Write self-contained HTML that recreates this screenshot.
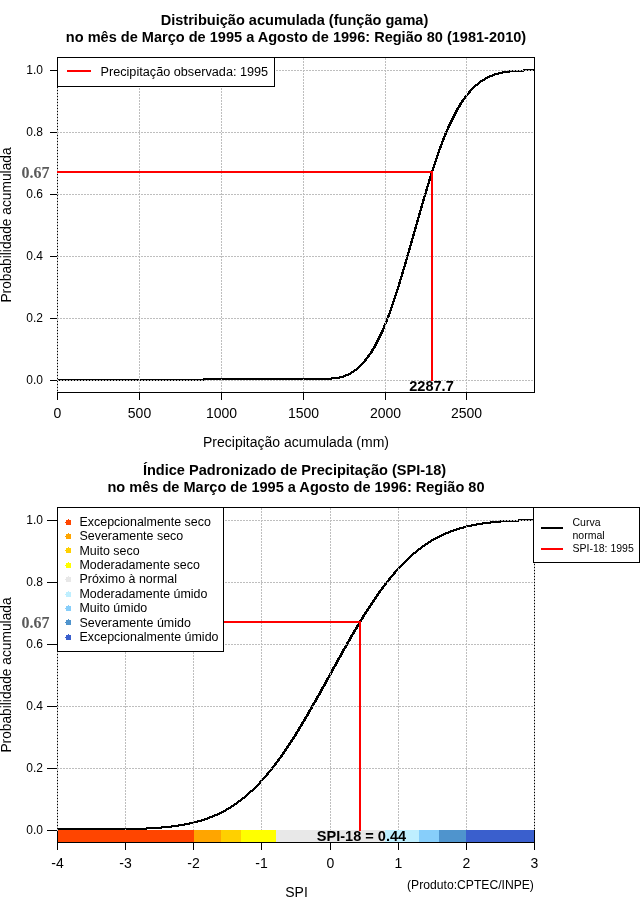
<!DOCTYPE html>
<html><head><meta charset="utf-8"><title>SPI</title>
<style>html,body{margin:0;padding:0;background:#fff}svg{display:block;will-change:transform}text{font-family:"Liberation Sans",sans-serif;fill:#000}</style></head>
<body>
<svg width="640" height="900" viewBox="0 0 640 900">
<rect width="640" height="900" fill="#fff"/>
<g shape-rendering="crispEdges">
<rect x="57.5" y="57.5" width="477" height="335" fill="none" stroke="#000" stroke-width="1"/>
</g>
<path d="M57.0,380.0 L203.0,380.0 L204.0,379.0 L320.0,379.0 L321.0,379.0 L322.0,379.0 L323.0,379.0 L324.0,379.0 L325.0,379.0 L326.0,379.0 L327.0,379.0 L328.0,379.0 L329.0,379.0 L330.0,379.0 L331.0,379.0 L332.0,378.0 L333.0,378.0 L334.0,378.0 L335.0,378.0 L336.0,378.0 L337.0,378.0 L338.0,378.0 L339.0,378.0 L340.0,377.0 L341.0,377.0 L342.0,377.0 L343.0,377.0 L344.0,376.0 L345.0,376.0 L346.0,375.0 L347.0,375.0 L348.0,375.0 L349.0,374.0 L350.0,374.0 L351.0,373.0 L352.0,372.0 L353.0,372.0 L354.0,371.0 L355.0,370.0 L356.0,370.0 L357.0,369.0 L358.0,368.0 L359.0,367.0 L360.0,366.0 L361.0,365.0 L362.0,364.0 L363.0,363.0 L364.0,362.0 L365.0,361.0 L366.0,359.0 L367.0,358.0 L368.0,357.0 L369.0,355.0 L370.0,354.0 L371.0,353.0 L372.0,351.0 L373.0,349.0 L374.0,348.0 L375.0,346.0 L376.0,344.0 L377.0,342.0 L378.0,340.0 L379.0,338.0 L380.0,336.0 L381.0,334.0 L382.0,332.0 L383.0,330.0 L384.0,327.0 L385.0,325.0 L386.0,322.0 L387.0,320.0 L388.0,317.0 L389.0,315.0 L390.0,312.0 L391.0,309.0 L392.0,306.0 L393.0,303.0 L394.0,300.0 L395.0,297.0 L396.0,294.0 L397.0,291.0 L398.0,288.0 L399.0,285.0 L400.0,281.0 L401.0,278.0 L402.0,275.0 L403.0,271.0 L404.0,268.0 L405.0,265.0 L406.0,261.0 L407.0,258.0 L408.0,254.0 L409.0,251.0 L410.0,247.0 L411.0,244.0 L412.0,240.0 L413.0,237.0 L414.0,233.0 L415.0,230.0 L416.0,226.0 L417.0,223.0 L418.0,219.0 L419.0,216.0 L420.0,212.0 L421.0,209.0 L422.0,205.0 L423.0,202.0 L424.0,198.0 L425.0,195.0 L426.0,192.0 L427.0,188.0 L428.0,185.0 L429.0,182.0 L430.0,178.0 L431.0,175.0 L432.0,172.0 L433.0,169.0 L434.0,166.0 L435.0,163.0 L436.0,160.0 L437.0,157.0 L438.0,154.0 L439.0,151.0 L440.0,148.0 L441.0,146.0 L442.0,143.0 L443.0,140.0 L444.0,138.0 L445.0,135.0 L446.0,133.0 L447.0,131.0 L448.0,128.0 L449.0,126.0 L450.0,124.0 L451.0,122.0 L452.0,120.0 L453.0,118.0 L454.0,116.0 L455.0,114.0 L456.0,112.0 L457.0,110.0 L458.0,108.0 L459.0,107.0 L460.0,105.0 L461.0,103.0 L462.0,102.0 L463.0,100.0 L464.0,99.0 L465.0,98.0 L466.0,96.0 L467.0,95.0 L468.0,94.0 L469.0,93.0 L470.0,91.0 L471.0,90.0 L472.0,89.0 L473.0,88.0 L474.0,87.0 L475.0,86.0 L476.0,85.0 L477.0,85.0 L478.0,84.0 L479.0,83.0 L480.0,82.0 L481.0,81.0 L482.0,81.0 L483.0,80.0 L484.0,80.0 L485.0,79.0 L486.0,78.0 L487.0,78.0 L488.0,77.0 L489.0,77.0 L490.0,76.0 L491.0,76.0 L492.0,76.0 L493.0,75.0 L494.0,75.0 L495.0,74.0 L496.0,74.0 L497.0,74.0 L498.0,74.0 L499.0,73.0 L500.0,73.0 L501.0,73.0 L502.0,73.0 L503.0,72.0 L504.0,72.0 L505.0,72.0 L506.0,72.0 L507.0,72.0 L508.0,72.0 L509.0,72.0 L510.0,71.0 L511.0,71.0 L512.0,71.0 L513.0,71.0 L514.0,71.0 L515.0,71.0 L516.0,71.0 L517.0,71.0 L518.0,71.0 L519.0,71.0 L520.0,71.0 L521.0,71.0 L522.0,71.0 L523.0,71.0 L524.0,70.0 L525.0,70.0 L526.0,70.0 L527.0,70.0 L528.0,70.0 L529.0,70.0 L530.0,70.0 L531.0,70.0 L532.0,70.0 L533.0,70.0 L534.0,70.0" fill="none" stroke="#000" stroke-width="2.4" stroke-linejoin="round" shape-rendering="crispEdges"/>
<g shape-rendering="crispEdges">
<line x1="57.5" y1="58" x2="57.5" y2="392" stroke="#bebebe" stroke-width="1" stroke-dasharray="2 1"/>
<line x1="139.5" y1="58" x2="139.5" y2="392" stroke="#bebebe" stroke-width="1" stroke-dasharray="2 1"/>
<line x1="221.5" y1="58" x2="221.5" y2="392" stroke="#bebebe" stroke-width="1" stroke-dasharray="2 1"/>
<line x1="303.5" y1="58" x2="303.5" y2="392" stroke="#bebebe" stroke-width="1" stroke-dasharray="2 1"/>
<line x1="385.5" y1="58" x2="385.5" y2="392" stroke="#bebebe" stroke-width="1" stroke-dasharray="2 1"/>
<line x1="466.5" y1="58" x2="466.5" y2="392" stroke="#bebebe" stroke-width="1" stroke-dasharray="2 1"/>
<line x1="57" y1="380.5" x2="534" y2="380.5" stroke="#bebebe" stroke-width="1" stroke-dasharray="2 1"/>
<line x1="57" y1="318.5" x2="534" y2="318.5" stroke="#bebebe" stroke-width="1" stroke-dasharray="2 1"/>
<line x1="57" y1="256.5" x2="534" y2="256.5" stroke="#bebebe" stroke-width="1" stroke-dasharray="2 1"/>
<line x1="57" y1="194.5" x2="534" y2="194.5" stroke="#bebebe" stroke-width="1" stroke-dasharray="2 1"/>
<line x1="57" y1="132.5" x2="534" y2="132.5" stroke="#bebebe" stroke-width="1" stroke-dasharray="2 1"/>
<line x1="57" y1="70.5" x2="534" y2="70.5" stroke="#bebebe" stroke-width="1" stroke-dasharray="2 1"/>
</g>
<g shape-rendering="crispEdges">
<rect x="50" y="380" width="7" height="1" fill="#000" />
<rect x="50" y="318" width="7" height="1" fill="#000" />
<rect x="50" y="256" width="7" height="1" fill="#000" />
<rect x="50" y="194" width="7" height="1" fill="#000" />
<rect x="50" y="132" width="7" height="1" fill="#000" />
<rect x="50" y="70" width="7" height="1" fill="#000" />
<rect x="57" y="392" width="1" height="8" fill="#000" />
<rect x="139" y="392" width="1" height="8" fill="#000" />
<rect x="221" y="392" width="1" height="8" fill="#000" />
<rect x="303" y="392" width="1" height="8" fill="#000" />
<rect x="385" y="392" width="1" height="8" fill="#000" />
<rect x="466" y="392" width="1" height="8" fill="#000" />
</g>
<text x="43" y="384.3" font-size="12" text-anchor="end">0.0</text>
<text x="43" y="322.3" font-size="12" text-anchor="end">0.2</text>
<text x="43" y="260.3" font-size="12" text-anchor="end">0.4</text>
<text x="43" y="198.3" font-size="12" text-anchor="end">0.6</text>
<text x="43" y="136.3" font-size="12" text-anchor="end">0.8</text>
<text x="43" y="74.3" font-size="12" text-anchor="end">1.0</text>
<text x="57.5" y="418" font-size="14" text-anchor="middle">0</text>
<text x="139.5" y="418" font-size="14" text-anchor="middle">500</text>
<text x="221.5" y="418" font-size="14" text-anchor="middle">1000</text>
<text x="303.5" y="418" font-size="14" text-anchor="middle">1500</text>
<text x="385.5" y="418" font-size="14" text-anchor="middle">2000</text>
<text x="466.5" y="418" font-size="14" text-anchor="middle">2500</text>
<g shape-rendering="crispEdges">
<rect x="57" y="171" width="376" height="2" fill="#ff0000" />
<rect x="431" y="171" width="2" height="210" fill="#ff0000" />
</g>
<g shape-rendering="crispEdges"><rect x="57.5" y="57.5" width="217" height="29" fill="#fff" stroke="#000"/>
<rect x="67" y="70" width="24" height="2" fill="#ff0000" />
</g>
<text x="100.5" y="76" font-size="12.68">Precipitação observada: 1995</text>
<text x="294.5" y="25" font-size="14.55" font-weight="bold" text-anchor="middle">Distribuição acumulada (função gama)</text>
<text x="296" y="42" font-size="14.55" font-weight="bold" text-anchor="middle">no mês de Março de 1995 a Agosto de 1996: Região 80 (1981-2010)</text>
<text x="296" y="447" font-size="14" text-anchor="middle">Precipitação acumulada (mm)</text>
<text transform="translate(11,225) rotate(-90)" font-size="13.75" text-anchor="middle">Probabilidade acumulada</text>
<text x="35.5" y="178" font-size="16" font-weight="bold" text-anchor="middle" style="font-family:'Liberation Serif',serif;fill:#5a5a5a">0.67</text>
<text x="431.5" y="390.5" font-size="14.55" font-weight="bold" text-anchor="middle">2287.7</text>
<g shape-rendering="crispEdges">
<rect x="57.5" y="507.5" width="477" height="335" fill="none" stroke="#000" stroke-width="1"/>
</g>
<path d="M57.0,829.0 L58.0,829.0 L59.0,829.0 L60.0,829.0 L61.0,829.0 L62.0,829.0 L63.0,829.0 L64.0,829.0 L65.0,829.0 L66.0,829.0 L67.0,829.0 L68.0,829.0 L69.0,829.0 L70.0,829.0 L71.0,829.0 L72.0,829.0 L73.0,829.0 L74.0,829.0 L75.0,829.0 L76.0,829.0 L77.0,829.0 L78.0,829.0 L79.0,829.0 L80.0,829.0 L81.0,829.0 L82.0,829.0 L83.0,829.0 L84.0,829.0 L85.0,829.0 L86.0,829.0 L87.0,829.0 L88.0,829.0 L89.0,829.0 L90.0,829.0 L91.0,829.0 L92.0,829.0 L93.0,829.0 L94.0,829.0 L95.0,829.0 L96.0,829.0 L97.0,829.0 L98.0,829.0 L99.0,829.0 L100.0,829.0 L101.0,829.0 L102.0,829.0 L103.0,829.0 L104.0,829.0 L105.0,829.0 L106.0,829.0 L107.0,829.0 L108.0,829.0 L109.0,829.0 L110.0,829.0 L111.0,829.0 L112.0,829.0 L113.0,829.0 L114.0,829.0 L115.0,829.0 L116.0,829.0 L117.0,829.0 L118.0,829.0 L119.0,829.0 L120.0,829.0 L121.0,829.0 L122.0,829.0 L123.0,829.0 L124.0,829.0 L125.0,829.0 L126.0,829.0 L127.0,829.0 L128.0,829.0 L129.0,829.0 L130.0,829.0 L131.0,829.0 L132.0,829.0 L133.0,829.0 L134.0,829.0 L135.0,829.0 L136.0,829.0 L137.0,829.0 L138.0,829.0 L139.0,829.0 L140.0,829.0 L141.0,829.0 L142.0,829.0 L143.0,829.0 L144.0,829.0 L145.0,829.0 L146.0,829.0 L147.0,828.0 L148.0,828.0 L149.0,828.0 L150.0,828.0 L151.0,828.0 L152.0,828.0 L153.0,828.0 L154.0,828.0 L155.0,828.0 L156.0,828.0 L157.0,828.0 L158.0,828.0 L159.0,828.0 L160.0,828.0 L161.0,828.0 L162.0,827.0 L163.0,827.0 L164.0,827.0 L165.0,827.0 L166.0,827.0 L167.0,827.0 L168.0,827.0 L169.0,827.0 L170.0,827.0 L171.0,827.0 L172.0,826.0 L173.0,826.0 L174.0,826.0 L175.0,826.0 L176.0,826.0 L177.0,826.0 L178.0,826.0 L179.0,825.0 L180.0,825.0 L181.0,825.0 L182.0,825.0 L183.0,825.0 L184.0,825.0 L185.0,824.0 L186.0,824.0 L187.0,824.0 L188.0,824.0 L189.0,824.0 L190.0,823.0 L191.0,823.0 L192.0,823.0 L193.0,823.0 L194.0,822.0 L195.0,822.0 L196.0,822.0 L197.0,822.0 L198.0,821.0 L199.0,821.0 L200.0,821.0 L201.0,821.0 L202.0,820.0 L203.0,820.0 L204.0,820.0 L205.0,819.0 L206.0,819.0 L207.0,819.0 L208.0,818.0 L209.0,818.0 L210.0,817.0 L211.0,817.0 L212.0,817.0 L213.0,816.0 L214.0,816.0 L215.0,815.0 L216.0,815.0 L217.0,815.0 L218.0,814.0 L219.0,814.0 L220.0,813.0 L221.0,813.0 L222.0,812.0 L223.0,812.0 L224.0,811.0 L225.0,811.0 L226.0,810.0 L227.0,809.0 L228.0,809.0 L229.0,808.0 L230.0,808.0 L231.0,807.0 L232.0,806.0 L233.0,806.0 L234.0,805.0 L235.0,804.0 L236.0,804.0 L237.0,803.0 L238.0,802.0 L239.0,801.0 L240.0,801.0 L241.0,800.0 L242.0,799.0 L243.0,798.0 L244.0,798.0 L245.0,797.0 L246.0,796.0 L247.0,795.0 L248.0,794.0 L249.0,793.0 L250.0,792.0 L251.0,791.0 L252.0,791.0 L253.0,790.0 L254.0,789.0 L255.0,788.0 L256.0,787.0 L257.0,786.0 L258.0,785.0 L259.0,784.0 L260.0,783.0 L261.0,781.0 L262.0,780.0 L263.0,779.0 L264.0,778.0 L265.0,777.0 L266.0,776.0 L267.0,775.0 L268.0,773.0 L269.0,772.0 L270.0,771.0 L271.0,770.0 L272.0,769.0 L273.0,767.0 L274.0,766.0 L275.0,765.0 L276.0,763.0 L277.0,762.0 L278.0,761.0 L279.0,759.0 L280.0,758.0 L281.0,757.0 L282.0,755.0 L283.0,754.0 L284.0,752.0 L285.0,751.0 L286.0,749.0 L287.0,748.0 L288.0,746.0 L289.0,745.0 L290.0,743.0 L291.0,742.0 L292.0,740.0 L293.0,739.0 L294.0,737.0 L295.0,736.0 L296.0,734.0 L297.0,732.0 L298.0,731.0 L299.0,729.0 L300.0,727.0 L301.0,726.0 L302.0,724.0 L303.0,722.0 L304.0,721.0 L305.0,719.0 L306.0,717.0 L307.0,716.0 L308.0,714.0 L309.0,712.0 L310.0,710.0 L311.0,709.0 L312.0,707.0 L313.0,705.0 L314.0,703.0 L315.0,702.0 L316.0,700.0 L317.0,698.0 L318.0,696.0 L319.0,695.0 L320.0,693.0 L321.0,691.0 L322.0,689.0 L323.0,687.0 L324.0,686.0 L325.0,684.0 L326.0,682.0 L327.0,680.0 L328.0,678.0 L329.0,677.0 L330.0,675.0 L331.0,673.0 L332.0,671.0 L333.0,669.0 L334.0,667.0 L335.0,666.0 L336.0,664.0 L337.0,662.0 L338.0,660.0 L339.0,658.0 L340.0,657.0 L341.0,655.0 L342.0,653.0 L343.0,651.0 L344.0,649.0 L345.0,648.0 L346.0,646.0 L347.0,644.0 L348.0,642.0 L349.0,641.0 L350.0,639.0 L351.0,637.0 L352.0,635.0 L353.0,634.0 L354.0,632.0 L355.0,630.0 L356.0,629.0 L357.0,627.0 L358.0,625.0 L359.0,624.0 L360.0,622.0 L361.0,620.0 L362.0,619.0 L363.0,617.0 L364.0,615.0 L365.0,614.0 L366.0,612.0 L367.0,611.0 L368.0,609.0 L369.0,608.0 L370.0,606.0 L371.0,605.0 L372.0,603.0 L373.0,602.0 L374.0,600.0 L375.0,599.0 L376.0,597.0 L377.0,596.0 L378.0,594.0 L379.0,593.0 L380.0,591.0 L381.0,590.0 L382.0,589.0 L383.0,587.0 L384.0,586.0 L385.0,585.0 L386.0,583.0 L387.0,582.0 L388.0,581.0 L389.0,580.0 L390.0,578.0 L391.0,577.0 L392.0,576.0 L393.0,575.0 L394.0,574.0 L395.0,572.0 L396.0,571.0 L397.0,570.0 L398.0,569.0 L399.0,568.0 L400.0,567.0 L401.0,566.0 L402.0,565.0 L403.0,564.0 L404.0,563.0 L405.0,562.0 L406.0,561.0 L407.0,560.0 L408.0,559.0 L409.0,558.0 L410.0,557.0 L411.0,556.0 L412.0,555.0 L413.0,554.0 L414.0,553.0 L415.0,553.0 L416.0,552.0 L417.0,551.0 L418.0,550.0 L419.0,549.0 L420.0,549.0 L421.0,548.0 L422.0,547.0 L423.0,546.0 L424.0,546.0 L425.0,545.0 L426.0,544.0 L427.0,544.0 L428.0,543.0 L429.0,542.0 L430.0,542.0 L431.0,541.0 L432.0,540.0 L433.0,540.0 L434.0,539.0 L435.0,539.0 L436.0,538.0 L437.0,538.0 L438.0,537.0 L439.0,537.0 L440.0,536.0 L441.0,536.0 L442.0,535.0 L443.0,535.0 L444.0,534.0 L445.0,534.0 L446.0,533.0 L447.0,533.0 L448.0,533.0 L449.0,532.0 L450.0,532.0 L451.0,531.0 L452.0,531.0 L453.0,531.0 L454.0,530.0 L455.0,530.0 L456.0,530.0 L457.0,529.0 L458.0,529.0 L459.0,529.0 L460.0,528.0 L461.0,528.0 L462.0,528.0 L463.0,528.0 L464.0,527.0 L465.0,527.0 L466.0,527.0 L467.0,526.0 L468.0,526.0 L469.0,526.0 L470.0,526.0 L471.0,526.0 L472.0,525.0 L473.0,525.0 L474.0,525.0 L475.0,525.0 L476.0,525.0 L477.0,524.0 L478.0,524.0 L479.0,524.0 L480.0,524.0 L481.0,524.0 L482.0,524.0 L483.0,523.0 L484.0,523.0 L485.0,523.0 L486.0,523.0 L487.0,523.0 L488.0,523.0 L489.0,523.0 L490.0,523.0 L491.0,522.0 L492.0,522.0 L493.0,522.0 L494.0,522.0 L495.0,522.0 L496.0,522.0 L497.0,522.0 L498.0,522.0 L499.0,522.0 L500.0,522.0 L501.0,521.0 L502.0,521.0 L503.0,521.0 L504.0,521.0 L505.0,521.0 L506.0,521.0 L507.0,521.0 L508.0,521.0 L509.0,521.0 L510.0,521.0 L511.0,521.0 L512.0,521.0 L513.0,521.0 L514.0,521.0 L515.0,521.0 L516.0,521.0 L517.0,521.0 L518.0,521.0 L519.0,520.0 L520.0,520.0 L521.0,520.0 L522.0,520.0 L523.0,520.0 L524.0,520.0 L525.0,520.0 L526.0,520.0 L527.0,520.0 L528.0,520.0 L529.0,520.0 L530.0,520.0 L531.0,520.0 L532.0,520.0 L533.0,520.0 L534.0,520.0" fill="none" stroke="#000" stroke-width="2.4" stroke-linejoin="round" shape-rendering="crispEdges"/>
<g shape-rendering="crispEdges">
<line x1="57.5" y1="508" x2="57.5" y2="830" stroke="#bebebe" stroke-width="1" stroke-dasharray="2 1"/>
<line x1="125.5" y1="508" x2="125.5" y2="830" stroke="#bebebe" stroke-width="1" stroke-dasharray="2 1"/>
<line x1="193.5" y1="508" x2="193.5" y2="830" stroke="#bebebe" stroke-width="1" stroke-dasharray="2 1"/>
<line x1="261.5" y1="508" x2="261.5" y2="830" stroke="#bebebe" stroke-width="1" stroke-dasharray="2 1"/>
<line x1="330.5" y1="508" x2="330.5" y2="830" stroke="#bebebe" stroke-width="1" stroke-dasharray="2 1"/>
<line x1="398.5" y1="508" x2="398.5" y2="830" stroke="#bebebe" stroke-width="1" stroke-dasharray="2 1"/>
<line x1="466.5" y1="508" x2="466.5" y2="830" stroke="#bebebe" stroke-width="1" stroke-dasharray="2 1"/>
<line x1="534.5" y1="508" x2="534.5" y2="830" stroke="#bebebe" stroke-width="1" stroke-dasharray="2 1"/>
<line x1="57" y1="830.5" x2="534" y2="830.5" stroke="#bebebe" stroke-width="1" stroke-dasharray="2 1"/>
<line x1="57" y1="768.5" x2="534" y2="768.5" stroke="#bebebe" stroke-width="1" stroke-dasharray="2 1"/>
<line x1="57" y1="706.5" x2="534" y2="706.5" stroke="#bebebe" stroke-width="1" stroke-dasharray="2 1"/>
<line x1="57" y1="644.5" x2="534" y2="644.5" stroke="#bebebe" stroke-width="1" stroke-dasharray="2 1"/>
<line x1="57" y1="582.5" x2="534" y2="582.5" stroke="#bebebe" stroke-width="1" stroke-dasharray="2 1"/>
<line x1="57" y1="520.5" x2="534" y2="520.5" stroke="#bebebe" stroke-width="1" stroke-dasharray="2 1"/>
</g>
<g shape-rendering="crispEdges">
<rect x="58" y="830" width="136" height="12" fill="#ff4500"/>
<rect x="194" y="830" width="27" height="12" fill="#ffa500"/>
<rect x="221" y="830" width="20" height="12" fill="#ffd000"/>
<rect x="241" y="830" width="35" height="12" fill="#ffff00"/>
<rect x="276" y="830" width="109" height="12" fill="#e8e8e8"/>
<rect x="385" y="830" width="34" height="12" fill="#bfefff"/>
<rect x="419" y="830" width="20" height="12" fill="#87cefa"/>
<rect x="439" y="830" width="27" height="12" fill="#4f94cd"/>
<rect x="466" y="830" width="68" height="12" fill="#3a5fcd"/>
<rect x="57" y="842" width="478" height="1" fill="#000" />
<rect x="47" y="830" width="10" height="1" fill="#000" />
<rect x="47" y="768" width="10" height="1" fill="#000" />
<rect x="47" y="706" width="10" height="1" fill="#000" />
<rect x="47" y="644" width="10" height="1" fill="#000" />
<rect x="47" y="582" width="10" height="1" fill="#000" />
<rect x="47" y="520" width="10" height="1" fill="#000" />
<rect x="57" y="842" width="1" height="8" fill="#000" />
<rect x="125" y="842" width="1" height="8" fill="#000" />
<rect x="193" y="842" width="1" height="8" fill="#000" />
<rect x="261" y="842" width="1" height="8" fill="#000" />
<rect x="330" y="842" width="1" height="8" fill="#000" />
<rect x="398" y="842" width="1" height="8" fill="#000" />
<rect x="466" y="842" width="1" height="8" fill="#000" />
<rect x="534" y="842" width="1" height="8" fill="#000" />
</g>
<text x="43" y="834.3" font-size="12" text-anchor="end">0.0</text>
<text x="43" y="772.3" font-size="12" text-anchor="end">0.2</text>
<text x="43" y="710.3" font-size="12" text-anchor="end">0.4</text>
<text x="43" y="648.3" font-size="12" text-anchor="end">0.6</text>
<text x="43" y="586.3" font-size="12" text-anchor="end">0.8</text>
<text x="43" y="524.3" font-size="12" text-anchor="end">1.0</text>
<text x="57.5" y="868" font-size="14" text-anchor="middle">-4</text>
<text x="125.5" y="868" font-size="14" text-anchor="middle">-3</text>
<text x="193.5" y="868" font-size="14" text-anchor="middle">-2</text>
<text x="261.5" y="868" font-size="14" text-anchor="middle">-1</text>
<text x="330.5" y="868" font-size="14" text-anchor="middle">0</text>
<text x="398.5" y="868" font-size="14" text-anchor="middle">1</text>
<text x="466.5" y="868" font-size="14" text-anchor="middle">2</text>
<text x="534.5" y="868" font-size="14" text-anchor="middle">3</text>
<g shape-rendering="crispEdges">
<rect x="57" y="621" width="304" height="2" fill="#ff0000" />
<rect x="359" y="621" width="2" height="210" fill="#ff0000" />
</g>
<g shape-rendering="crispEdges"><rect x="57.5" y="507.5" width="166" height="144" fill="#fff" stroke="#000"/></g>
<path shape-rendering="crispEdges" fill="#ff4500" d="M66,520h2v-1h1v1h2v5h-5v-2h-1v-1h1z"/>
<text x="79.5" y="526.0" font-size="12.45">Excepcionalmente seco</text>
<path shape-rendering="crispEdges" fill="#ffa500" d="M66,534h2v-1h1v1h2v5h-5v-2h-1v-1h1z"/>
<text x="79.5" y="540.4" font-size="12.45">Severamente seco</text>
<path shape-rendering="crispEdges" fill="#ffd000" d="M66,548h2v-1h1v1h2v5h-5v-2h-1v-1h1z"/>
<text x="79.5" y="554.7" font-size="12.45">Muito seco</text>
<path shape-rendering="crispEdges" fill="#ffff00" d="M66,563h2v-1h1v1h2v5h-5v-2h-1v-1h1z"/>
<text x="79.5" y="569.0" font-size="12.45">Moderadamente seco</text>
<path shape-rendering="crispEdges" fill="#e8e8e8" d="M66,577h2v-1h1v1h2v5h-5v-2h-1v-1h1z"/>
<text x="79.5" y="583.4" font-size="12.45">Próximo à normal</text>
<path shape-rendering="crispEdges" fill="#bfefff" d="M66,592h2v-1h1v1h2v5h-5v-2h-1v-1h1z"/>
<text x="79.5" y="597.8" font-size="12.45">Moderadamente úmido</text>
<path shape-rendering="crispEdges" fill="#87cefa" d="M66,606h2v-1h1v1h2v5h-5v-2h-1v-1h1z"/>
<text x="79.5" y="612.1" font-size="12.45">Muito úmido</text>
<path shape-rendering="crispEdges" fill="#4f94cd" d="M66,620h2v-1h1v1h2v5h-5v-2h-1v-1h1z"/>
<text x="79.5" y="626.5" font-size="12.45">Severamente úmido</text>
<path shape-rendering="crispEdges" fill="#3a5fcd" d="M66,635h2v-1h1v1h2v5h-5v-2h-1v-1h1z"/>
<text x="79.5" y="640.8" font-size="12.45">Excepcionalmente úmido</text>
<g shape-rendering="crispEdges"><rect x="533.5" y="507.5" width="106" height="55" fill="#fff" stroke="#000"/>
<rect x="541" y="527" width="22" height="2" fill="#000" />
<rect x="541" y="548" width="22" height="2" fill="#ff0000" />
</g>
<text x="572.5" y="525.5" font-size="10.5">Curva</text>
<text x="572.5" y="538.5" font-size="10.5">normal</text>
<text x="572.5" y="552" font-size="10.5">SPI-18: 1995</text>
<text x="294.5" y="475" font-size="14.55" font-weight="bold" text-anchor="middle">Índice Padronizado de Precipitação (SPI-18)</text>
<text x="296" y="492" font-size="14.55" font-weight="bold" text-anchor="middle">no mês de Março de 1995 a Agosto de 1996: Região 80</text>
<text x="296.5" y="897" font-size="14" text-anchor="middle">SPI</text>
<text transform="translate(11,675) rotate(-90)" font-size="13.75" text-anchor="middle">Probabilidade acumulada</text>
<text x="35.5" y="628" font-size="16" font-weight="bold" text-anchor="middle" style="font-family:'Liberation Serif',serif;fill:#5a5a5a">0.67</text>
<text x="361.5" y="840.5" font-size="14.55" font-weight="bold" text-anchor="middle">SPI-18 = 0.44</text>
<text x="470.5" y="889" font-size="12.15" text-anchor="middle">(Produto:CPTEC/INPE)</text>
</svg></body></html>
